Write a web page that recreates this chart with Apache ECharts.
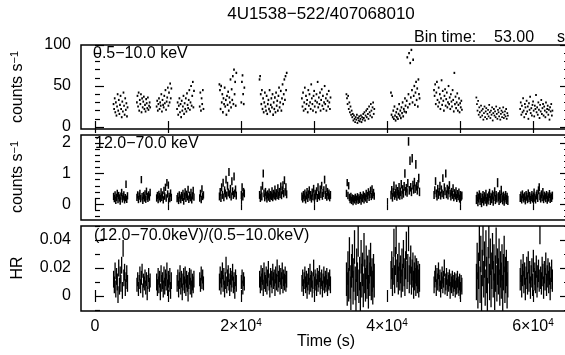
<!DOCTYPE html>
<html><head><meta charset="utf-8">
<script src="https://cdn.jsdelivr.net/npm/echarts@6/dist/echarts.min.js"></script>
<style>html,body{margin:0;padding:0;background:#fff}#c{width:565px;height:355px}</style>
</head><body><div id="c"></div>
<script>
// ---- data ----
const segStart = [2500, 5700, 8400, 11200, 14300, 17000, 20000, 22500, 28300, 34400, 40500, 46400, 52200, 58200];
const segEnd   = [4500, 7600, 10500, 13600, 14900, 19400, 20500, 26300, 32300, 38300, 44500, 50300, 56600, 62700];

const softRate = [
 [28,22,35,18,30,14,25,40,20,33,16,27,38,22,12,31,19,42,26,15,35,21,29,13,24],
 [30,38,25,42,20,33,28,40,18,35,24,31,37,22,27,19,34,29,23,36,21,26,30,24],
 [25,32,20,28,35,22,30,26,40,19,33,27,24,38,29,45,21,31,36,48,26,42,30,53,35,47],
 [22,30,15,26,35,18,28,12,32,20,25,38,16,29,22,35,19,41,27,23,33,45,21,30,50,26,38,55,24,44],
 [25,42,20,35,28,45,22],
 [52,45,22,50,30,40,18,35,28,48,25,33,15,38,27,43,20,36,30,58,24,46,33,62,28,70,40,55,26,66],
 [30,55,63,40,28,48],
 [58,62,40,28,45,22,35,18,30,42,25,20,38,16,28,33,22,45,19,27,35,24,40,15,30,22,36,18,42,26,32,20,38,48,24,30,44,20,35,52,28,40,58,33,62,45,66],
 [35,25,42,20,30,48,22,38,28,33,18,45,26,40,30,22,52,35,28,20,38,44,25,32,18,40,30,55,24,36,28,42,20,33,46,26,38,22,30,50,28,35,20,40,32,25,44,30,22,36],
 [40,35,28,38,22,30,18,25,15,20,12,16,8,14,10,6,12,9,15,5,11,8,13,7,10,14,6,12,9,16,11,18,8,14,20,12,22,16,10,25,18,14,28,20,12,24,30,16,22],
 [42,15,38,12,20,10,25,14,8,18,12,22,10,16,28,14,20,11,24,17,30,13,22,19,35,26,18,32,85,24,40,90,28,78,36,94,45,30,82,38,50,27,42,55,33,47,25,58,40,35],
 [45,38,52,28,42,55,33,25,48,30,40,22,35,57,27,44,32,20,38,46,26,34,42,24,30,50,28,36,22,40,31,25,45,33,19,66,28,37,23,30,41,20,27,35,18,29,24,32,21],
 [36,28,20,32,15,24,18,12,26,20,14,22,9,17,25,12,19,23,10,16,21,13,27,18,11,20,15,24,8,17,22,14,19,12,25,16,10,21,18,13,23,9,16,20,12,18,24,11,15,19,13,22,10,17,14],
 [22,30,15,26,18,35,20,12,28,24,16,32,19,25,10,29,21,37,17,23,14,27,31,20,13,26,22,39,18,24,15,30,21,11,27,19,33,16,23,28,14,25,20,12,30,18,22,26,15,21,9,24,19,28,14,20]
];
const softErr = [1.3,1.3,1.3,1.3,1.3,1.4,1.4,1.4,1.3,1.2,1.4,1.3,1.1,1.2];

const hardRate = [
 [0.25,0.18,0.30,0.12,0.22,0.35,0.15,0.28,0.20,0.10,0.26,0.38,0.17,0.24,0.30,0.14,0.21,0.65,0.16,0.27],
 [0.22,0.30,0.15,0.26,0.35,0.18,0.80,0.24,0.12,0.28,0.20,0.33,0.16,0.42,0.25,0.19,0.30,0.23,0.38],
 [0.20,0.28,0.15,0.32,0.24,0.18,0.40,0.22,0.30,0.14,0.45,0.26,0.55,0.20,0.70,0.33,0.62,0.25,0.18,0.36,0.22],
 [0.18,0.25,0.12,0.30,0.20,0.15,0.28,0.22,0.35,0.10,0.26,0.40,0.19,0.32,0.24,0.48,0.16,0.29,0.21,0.38,0.14,0.27,0.45,0.23],
 [0.20,0.35,0.15,0.50,0.25,0.30],
 [0.25,0.40,0.20,0.55,0.30,0.70,0.22,0.45,0.35,0.80,0.28,0.60,0.38,1.05,0.32,0.50,0.25,0.75,0.42,0.30,0.90,0.35,0.48,0.28],
 [0.30,0.55,0.25,0.40,0.35],
 [0.30,0.20,0.45,0.25,0.60,1.00,0.35,0.22,0.40,0.28,0.18,0.32,0.24,0.38,0.20,0.30,0.26,0.42,0.22,0.34,0.28,0.48,0.25,0.36,0.30,0.52,0.27,0.40,0.33,0.58,0.29,0.45,0.62,0.35,0.78,0.40,0.55,0.32],
 [0.25,0.18,0.30,0.22,0.35,0.15,0.28,0.40,0.20,0.32,0.45,0.24,0.30,0.18,0.38,0.26,0.50,0.22,0.34,0.28,0.42,0.20,0.55,0.30,0.25,0.48,0.33,0.60,0.27,0.36,0.45,0.80,0.30,0.52,0.24,0.40,0.28,0.35,0.22,0.30],
 [0.35,0.70,0.28,0.60,0.22,0.15,0.25,0.12,0.20,0.08,0.18,0.14,0.22,0.10,0.16,0.24,0.12,0.20,0.15,0.28,0.10,0.22,0.18,0.30,0.14,0.25,0.20,0.35,0.16,0.28,0.40,0.22,0.32,0.45,0.25,0.50,0.30,0.38,0.26],
 [0.30,0.45,0.22,0.38,0.60,0.28,0.35,0.50,0.25,0.42,0.32,0.55,0.28,0.40,0.65,0.30,0.48,0.35,0.58,1.00,0.42,0.52,0.38,0.68,2.05,0.45,1.42,0.55,0.40,1.50,0.62,0.48,0.72,0.50,1.30,0.58,0.45,0.65,0.85,0.40],
 [0.30,0.45,0.75,0.35,0.25,0.50,0.30,0.40,0.60,0.28,0.48,0.35,0.85,0.30,0.55,0.42,1.00,0.32,0.50,0.28,0.45,0.62,0.35,0.25,0.40,0.30,0.52,0.22,0.36,0.28,0.42,0.20,0.33,0.26,0.38,0.18,0.30,0.24,0.28],
 [0.15,0.25,0.08,0.20,0.30,0.12,0.22,0.05,0.18,0.28,0.10,0.24,0.16,0.32,0.08,0.20,0.14,0.26,0.35,0.12,0.22,0.18,0.30,0.10,0.25,0.40,0.15,0.28,0.20,0.70,0.24,0.12,0.30,0.18,0.45,0.22,0.14,0.26,0.10,0.20,0.28,0.15,0.22,0.12],
 [0.20,0.28,0.15,0.32,0.22,0.18,0.26,0.12,0.30,0.24,0.16,0.35,0.20,0.27,0.14,0.22,0.30,0.18,0.25,0.38,0.21,0.15,0.28,0.34,0.20,0.45,0.55,0.26,0.18,0.32,0.22,0.40,0.16,0.28,0.24,0.19,0.30,0.14,0.26,0.21,0.33,0.17,0.25,0.20,0.28]
];
const hardErr = [0.12,0.12,0.12,0.12,0.12,0.13,0.13,0.13,0.13,0.12,0.14,0.13,0.15,0.13];

const hrVal = [
 [0.012,0.008,0.018,0.005,0.014,0.010,0.001,0.020,0.007,0.015,0.009,0.022,0.004,0.034,0.013,0.017,0.006,0.011,0.016,0.009],
 [0.008,0.012,0.005,0.010,0.016,0.007,0.013,0.018,0.004,0.011,0.009,0.014,0.006,0.012,0.002,0.010,0.015,0.008,0.011],
 [0.010,0.006,0.014,0.008,0.012,0.003,0.016,0.009,0.011,0.005,0.015,0.007,0.013,0.010,0.018,0.006,0.012,0.009,0.014,0.004,0.011],
 [0.009,0.013,0.005,0.011,0.016,0.007,0.012,0.003,0.010,0.014,0.008,0.015,0.006,0.012,0.009,0.002,0.011,0.014,0.007,0.013,0.005,0.010,0.008,0.012],
 [0.012,0.008,0.016,0.010,0.014,0.009],
 [0.010,0.015,0.007,0.012,0.018,0.009,0.014,0.005,0.011,0.022,0.008,0.013,0.016,0.010,0.006,0.014,0.009,0.012,0.017,0.008,0.011,0.004,0.013,0.009],
 [0.010,0.014,0.006,0.012,0.009],
 [0.012,0.008,0.016,0.010,0.014,0.006,0.018,0.011,0.009,0.015,0.007,0.013,0.019,0.010,0.005,0.014,0.012,0.008,0.017,0.011,0.013,0.006,0.015,0.010,0.020,0.009,0.012,0.016,0.007,0.014,0.011,0.018,0.008,0.013,0.010,0.015,0.009,0.012],
 [0.009,0.013,0.006,0.011,0.015,0.008,0.012,0.004,0.010,0.014,0.007,0.017,0.009,0.012,0.005,0.011,0.020,0.008,0.013,0.010,0.006,0.014,0.009,0.012,0.016,0.007,0.011,0.013,0.005,0.010,0.015,0.008,0.012,0.009,0.014,0.006,0.011,0.010,0.013,0.008],
 [0.012,0.005,0.020,0.008,0.030,0.010,0.002,0.018,0.025,0.006,0.015,0.035,0.009,0.000,0.022,0.012,0.040,0.007,0.016,-0.002,0.028,0.011,0.019,0.004,0.033,0.014,0.008,0.024,0.010,0.017,0.003,0.021,0.012,0.026,0.009,0.015,0.006,0.018,0.011],
 [0.015,0.022,0.010,0.018,0.038,0.012,0.025,0.040,0.016,0.020,0.011,0.028,0.014,0.019,0.009,0.024,0.013,0.030,0.017,0.010,0.022,0.036,0.015,0.020,0.042,0.012,0.018,0.026,0.011,0.016,0.021,0.008,0.014,0.019,0.010,0.017,0.012,0.015,0.009,0.013],
 [0.008,0.012,0.016,0.006,0.014,0.010,0.018,0.009,0.013,0.005,0.011,0.015,0.008,0.012,0.020,0.007,0.010,0.014,0.006,0.011,0.009,0.013,0.004,0.010,0.008,0.012,0.006,0.009,0.011,0.005,0.010,0.007,0.012,0.008,0.006,0.010,0.004,0.009,0.007],
 [0.010,0.025,0.004,0.018,0.038,0.008,0.030,0.002,0.020,0.042,0.012,0.026,0.006,0.034,0.015,0.000,0.022,0.040,0.010,0.028,0.005,0.018,0.032,0.012,0.024,0.003,0.016,0.036,0.009,0.021,0.014,0.028,0.006,0.019,0.011,0.024,0.002,0.017,0.030,0.008,0.015,0.020,0.004,0.012],
 [0.012,0.018,0.007,0.015,0.022,0.010,0.016,0.005,0.013,0.020,0.009,0.024,0.011,0.017,0.006,0.014,0.019,0.008,0.025,0.012,0.016,0.010,0.021,0.007,0.014,0.018,0.011,0.045,0.013,0.009,0.020,0.015,0.006,0.017,0.012,0.023,0.008,0.014,0.019,0.010,0.016,0.005,0.013,0.018,0.011]
];
const hrErr = [0.006,0.005,0.006,0.006,0.005,0.006,0.005,0.006,0.006,0.012,0.010,0.006,0.013,0.008];

const xTicks = [0,10000,20000,30000,40000,50000,60000];
const xLabelVals = [0,20000,40000,60000];
const yMajor = [[0,50,100],[0,1,2],[0,0.02,0.04]];
const yMinor = [[10,20,30,40,60,70,80,90],[-0.4,-0.2,0.2,0.4,0.6,0.8,1.2,1.4,1.6,1.8,2.2],[-0.01,0.01,0.03,0.05]];
const yRange = [[-2.4,100],[-0.52,2.26],[-0.0107,0.05]];
const xRange = [-1918, 64930];
const panelLabels = ['0.5\u221210.0 keV','12.0\u221270.0 keV','(12.0\u221270.0keV)/(0.5\u221210.0keV)'];

// ---- build ----
function build(vals, errs) {
  const out = [];
  vals.forEach((seg, s) => {
    const n = seg.length, w = (segEnd[s] - segStart[s]) / n;
    seg.forEach((v, i) => out.push([segStart[s] + (i + 0.5) * w, v, errs[s]]));
  });
  return out;
}
const FONT = 'Liberation Sans, Arial, Helvetica, sans-serif';
const grids = [
  {left:81, right:-4, top:45, height:84},
  {left:81, right:-4, top:135, height:85},
  {left:81, right:-4, top:226, height:85}
].map(g => Object.assign(g, {show:true, borderColor:'#000', borderWidth:1.5, backgroundColor:'transparent', containLabel:false, outerBoundsMode:'none'}));

const xAxes = [], yAxes = [];
for (let g = 0; g < 3; g++) {
  ['bottom','top'].forEach(pos => xAxes.push({
    gridIndex:g, type:'value', min:xRange[0], max:xRange[1], position:pos,
    axisLine:{show:false}, splitLine:{show:false},
    axisTick:{show:true, inside:true, length:6, customValues:xTicks, lineStyle:{color:'#000', width:1.2}},
    axisLabel:{show: g===2 && pos==='bottom', customValues:xLabelVals, margin:7, color:'#000',
      fontFamily:FONT, fontSize:16,
      formatter: v => v === 0 ? '{n|0}' : '{n|' + (v/10000) + '\u00d710}{e|4}',
      rich:{ n:{fontSize:16, fontFamily:FONT, color:'#000', lineHeight:18},
             e:{fontSize:10, fontFamily:FONT, color:'#000', verticalAlign:'top', lineHeight:10} } }
  }));
  [['left',true],['left',false],['right',true],['right',false]].forEach(([pos, major]) => yAxes.push({
    gridIndex:g, type:'value', min:yRange[g][0], max:yRange[g][1], position:pos,
    axisLine:{show:false}, splitLine:{show:false},
    axisTick:{show:true, inside:true, length: major ? 9 : 5, customValues: major ? yMajor[g] : yMinor[g], lineStyle:{color:'#000', width:1.2}},
    axisLabel:{show: major && pos==='left', customValues:yMajor[g], margin:10, color:'#000', fontFamily:FONT, fontSize:16}
  }));
}

function errRenderer(lw) {
  return function (params, api) {
    const x = api.value(0), y = api.value(1), e = api.value(2);
    const p1 = api.coord([x, y - e]), p2 = api.coord([x, y + e]);
    return {type:'line', shape:{x1:p1[0], y1:p1[1], x2:p2[0], y2:p2[1]},
      style:{stroke:'#000', lineWidth:lw}};
  };
}
const series = [
  {type:'custom', xAxisIndex:0, yAxisIndex:0, clip:true, renderItem:errRenderer(1.7), data:build(softRate, softErr), animation:false},
  {type:'custom', xAxisIndex:2, yAxisIndex:4, clip:true, renderItem:errRenderer(1.5), data:build(hardRate, hardErr), animation:false},
  {type:'custom', xAxisIndex:4, yAxisIndex:8, clip:true, renderItem:errRenderer(1.3), data:build(hrVal, hrErr), animation:false}
];

function txt(x, y, text, opts) {
  return Object.assign({type:'text', x:x, y:y, silent:true, z:100,
    style:Object.assign({text:text, fill:'#000', font:'16px ' + FONT, align:'left', verticalAlign:'middle'}, opts && opts.style || {})},
    opts && opts.extra || {});
}
const yTitleRich = { a:{fontSize:16, fontFamily:FONT, fill:'#000', lineHeight:18}, b:{fontSize:11, fontFamily:FONT, fill:'#000', verticalAlign:'top', lineHeight:10} };
const graphics = [
  txt(321, 14, '4U1538\u2212522/407068010', {style:{font:'17px ' + FONT, align:'center'}}),
  txt(414, 38, 'Bin time:'),
  txt(494, 38, '53.00'),
  txt(557, 38, 's'),
  txt(93, 54, panelLabels[0]),
  txt(95, 144, panelLabels[1]),
  txt(94, 236, panelLabels[2]),
  txt(326, 342, 'Time (s)', {style:{align:'center'}}),
  {type:'text', x:18, y:87, rotation:Math.PI/2, silent:true, style:{text:'{a|counts s}{b|\u22121}', rich:yTitleRich, align:'center', verticalAlign:'middle'}},
  {type:'text', x:18, y:177, rotation:Math.PI/2, silent:true, style:{text:'{a|counts s}{b|\u22121}', rich:yTitleRich, align:'center', verticalAlign:'middle'}},
  {type:'text', x:18, y:268, rotation:Math.PI/2, silent:true, style:{text:'HR', font:'16px ' + FONT, fill:'#000', align:'center', verticalAlign:'middle'}}
];

const chart = echarts.init(document.getElementById('c'), null, {renderer:'canvas'});
chart.setOption({
  animation:false,
  backgroundColor:'#fff',
  grid:grids, xAxis:xAxes, yAxis:yAxes, series:series, graphic:graphics
});
</script>
</body></html>
